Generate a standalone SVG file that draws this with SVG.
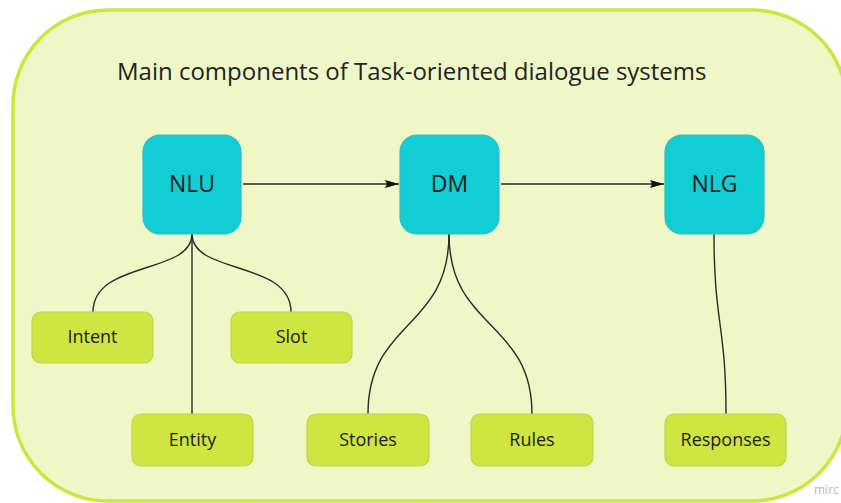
<svg xmlns="http://www.w3.org/2000/svg" width="841" height="503" viewBox="0 0 841 503">
<defs>
<style>
.frame{fill:#eff7c6;stroke:#cde53e;stroke-width:3.5}
.main rect{fill:#13cdd4;stroke:#2bbfc6;stroke-width:1.2}
.sub rect{fill:#cfe541;stroke:#bfd64a;stroke-width:1.2}
text{font-family:"Open Sans","DejaVu Sans",sans-serif;fill:#1c1c1c;text-anchor:middle}
.main text{font-size:23px}
.sub text{font-size:18px}
.title{font-size:24px;fill:#222;text-anchor:start}
.wm{font-size:12px;fill:#b8b8b8;text-anchor:start}
#connectors path{fill:none;stroke:#2a2a2a;stroke-width:1.4}
</style>
<marker id="arr" viewBox="0 0 14 8" refX="14" refY="4" markerWidth="14" markerHeight="8" markerUnits="userSpaceOnUse" orient="auto">
<path d="M0,0 L14,4 L0,8 L2,4 Z" fill="#111"/>
</marker>
</defs>
<rect class="frame" x="13" y="10" width="834" height="491" rx="95" ry="95"/>
<text class="title" x="117" y="80">Main components of Task-oriented dialogue systems</text>
<text class="wm" x="814" y="494">mirc</text>
<g id="connectors">
<path d="M243,184 L399,184" marker-end="url(#arr)"/>
<path d="M501,184 L664,184" marker-end="url(#arr)"/>
<path d="M192,234 L192,414"/>
<path d="M192,234 C192,275 93,260 93,312"/>
<path d="M192,234 C192,275 291,260 291,312"/>
<path d="M449,234 C449,330 368,320 368,414"/>
<path d="M449,234 C449,330 532,320 532,414"/>
<path d="M714,234 C714,324 726,324 726,414"/>
</g>
<g id="nlu" class="main"><rect x="143" y="135" width="98" height="99" rx="17"/><text x="192" y="192">NLU</text></g>
<g id="dm" class="main"><rect x="400" y="135" width="99" height="99" rx="17"/><text x="449.5" y="192">DM</text></g>
<g id="nlg" class="main"><rect x="665" y="135" width="99" height="99" rx="17"/><text x="714.5" y="192">NLG</text></g>
<g id="intent" class="sub"><rect x="32" y="312" width="121" height="51" rx="9"/><text x="92.5" y="343">Intent</text></g>
<g id="slot" class="sub"><rect x="231" y="312" width="121" height="51" rx="9"/><text x="291.5" y="343">Slot</text></g>
<g id="entity" class="sub"><rect x="132" y="414" width="121" height="52" rx="9"/><text x="192.5" y="446">Entity</text></g>
<g id="stories" class="sub"><rect x="307" y="414" width="122" height="52" rx="9"/><text x="368" y="446">Stories</text></g>
<g id="rules" class="sub"><rect x="471" y="414" width="122" height="52" rx="9"/><text x="532" y="446">Rules</text></g>
<g id="responses" class="sub"><rect x="665" y="414" width="121" height="52" rx="9"/><text x="725.5" y="446">Responses</text></g>
</svg>
